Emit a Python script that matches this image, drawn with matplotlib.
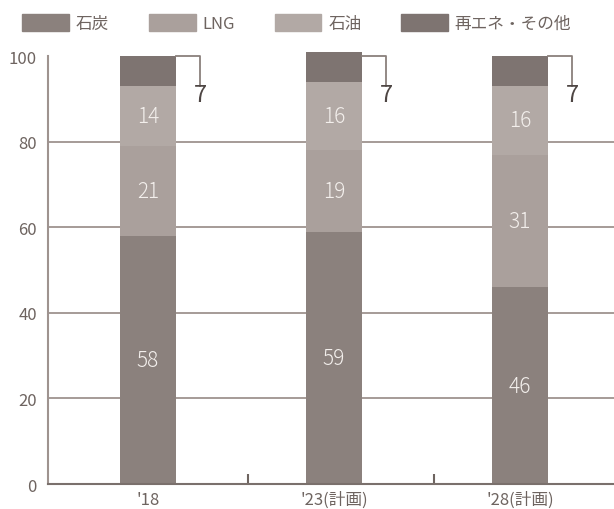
import matplotlib.pyplot as plt
import matplotlib.patches as mpatches

plt.rcParams['font.family'] = ['Noto Sans CJK JP', 'DejaVu Sans']

# Data
years = ["'18", "'23(計画)", "'28(計画)"]
coal = [58, 59, 46]
lng = [21, 19, 31]
oil = [14, 16, 16]
renew = [7, 7, 7]
series_names = ['石炭', 'LNG', '石油', '再エネ・その他']
y_ticks = [0, 20, 40, 60, 80, 100]

colors = ['#8b817d', '#aaa09c', '#b2a9a5', '#7e7471']
grid_color = '#9e938f'
text_color = '#6e6460'

fig = plt.figure(figsize=(6.14, 5.10), dpi=100)
ax = fig.add_axes([0.078, 0.049, 0.922, 0.839])

x = list(range(len(years)))
width = 0.30

# Grid lines behind bars
for yv in y_ticks[1:-1]:
    ax.axhline(yv, color=grid_color, lw=1.3, zorder=0)

# Stacked bars
bottom = [0] * len(years)
stacks = [coal, lng, oil, renew]
for vals, col in zip(stacks, colors):
    ax.bar(x, vals, width, bottom=bottom, color=col, zorder=2, clip_on=False)
    bottom = [b + v for b, v in zip(bottom, vals)]

# Segment labels (first three series)
for xi in x:
    base = 0
    for vals in stacks[:3]:
        v = vals[xi]
        ax.text(xi, base + v / 2, str(v), ha='center', va='center',
                fontsize=15, fontweight='light', color='#f3efec', zorder=3)
        base += v

# Bracket and label for the top segment
for xi in x:
    x0 = xi + width / 2
    x1 = xi + width / 2 + 0.13
    ax.plot([x0, x1, x1], [100, 100, 93], color='#8a807c', lw=1.3,
            clip_on=False, zorder=3)
    ax.text(x1, 91, str(renew[xi]), ha='center', va='center',
            fontsize=17, color='#4e4644', zorder=3)

ax.set_xlim(-0.538, 2.505)
ax.set_ylim(0, 100)

ax.set_yticks(y_ticks)
ax.set_yticklabels([str(v) for v in y_ticks], fontsize=12, color=text_color)
ax.tick_params(axis='y', length=0, pad=8)

ax.set_xticks(x)
ax.set_xticklabels(years, fontsize=12, color=text_color)
ax.tick_params(axis='x', which='major', length=0, pad=5)
ax.set_xticks([0.54, 1.54], minor=True)
ax.tick_params(axis='x', which='minor', direction='in', length=7,
               width=1.5, color='#6e6460')

for side in ['top', 'right']:
    ax.spines[side].set_visible(False)
ax.spines['left'].set_color(grid_color)
ax.spines['left'].set_linewidth(1.5)
ax.spines['bottom'].set_color('#7a706c')
ax.spines['bottom'].set_linewidth(1.5)

# Legend
handles = [mpatches.Patch(color=c) for c in colors]
fig.legend(handles, series_names, loc='upper left', bbox_to_anchor=(0.012, 1.0),
           ncol=4, frameon=False, fontsize=12, handlelength=2.8,
           handleheight=1.2, handletextpad=0.4, columnspacing=2.4,
           labelcolor=text_color)

plt.savefig('out.png', dpi=100)
